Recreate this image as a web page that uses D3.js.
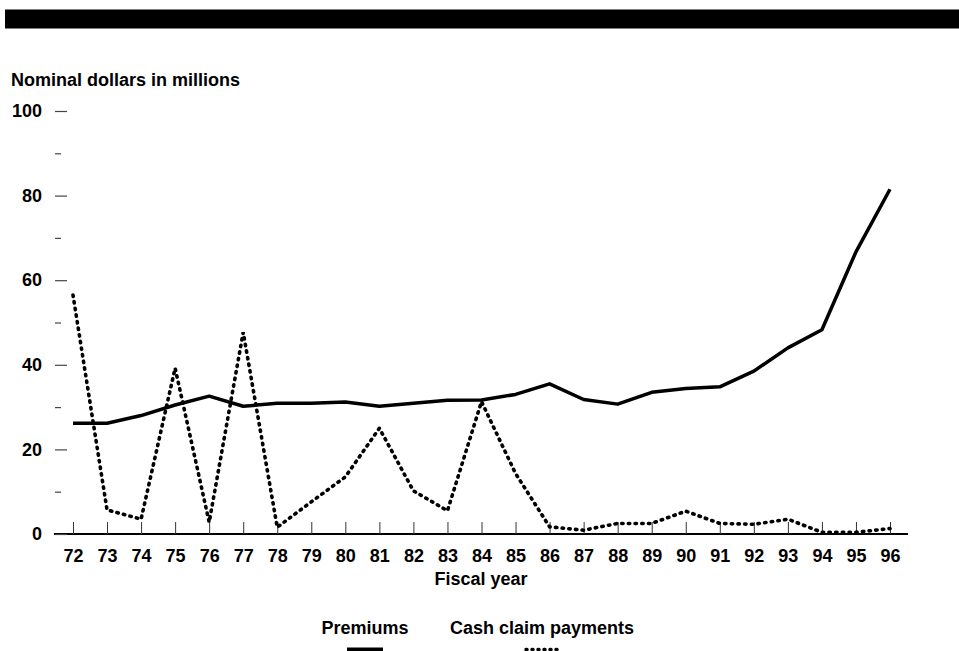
<!DOCTYPE html>
<html><head><meta charset="utf-8">
<script src="https://cdn.jsdelivr.net/npm/d3@7"></script>
<style>body{margin:0;background:#fff}svg{display:block}text{font-family:"Liberation Sans",Arial,sans-serif;font-weight:bold;fill:#000}</style>
</head><body><svg id="c" width="959" height="651"></svg>
<script>
const years = ["72","73","74","75","76","77","78","79","80","81","82","83","84","85","86","87","88","89","90","91","92","93","94","95","96"];
const premiums = [26.2,26.2,28.0,30.5,32.6,30.2,30.9,30.9,31.2,30.2,30.9,31.6,31.7,33.0,35.5,31.8,30.7,33.5,34.4,34.8,38.5,44.0,48.3,66.7,81.5];
const claims = [56.5,5.7,3.5,39.2,2.8,47.7,1.6,7.6,13.5,25.0,10.2,5.5,31.3,14.3,1.7,0.9,2.5,2.5,5.4,2.5,2.3,3.5,0.4,0.4,1.3];
const yMajor = [0,20,40,60,80,100];
const yMinor = [10,30,50,70,90];
const seriesNames = ["Premiums","Cash claim payments"];

const FS = 18;
const DOTS = "1.4,5.3";
const svg = d3.select("#c");
svg.append("rect").attr("x",5).attr("y",9.5).attr("width",954).attr("height",19).attr("fill","#000");
svg.append("text").attr("x",11).attr("y",86).attr("font-size",FS).text("Nominal dollars in millions");

const x = d3.scalePoint().domain(years).range([73,890]);
const y = d3.scaleLinear().domain([0,100]).range([534,111]);

// x axis line
svg.append("line").attr("x1",54).attr("x2",908).attr("y1",y(0)).attr("y2",y(0)).attr("stroke","#000").attr("stroke-width",2);
const xa = svg.append("g").attr("transform",`translate(0,${y(0)})`)
  .call(d3.axisBottom(x).tickSize(-12).tickPadding(15));
xa.select(".domain").remove();
xa.selectAll(".tick line").attr("stroke","#333").attr("stroke-width",1);
xa.selectAll(".tick text").attr("font-size",FS).attr("font-family","Liberation Sans, Arial, sans-serif").attr("font-weight","bold").attr("fill","#000");
svg.append("text").attr("x",481).attr("y",585).attr("text-anchor","middle").attr("font-size",FS).text("Fiscal year");

// y axis ticks
const ya = svg.append("g").attr("transform","translate(55,0)")
  .call(d3.axisRight(y).tickValues(yMajor).tickSize(12).tickFormat(d3.format("d")));
ya.select(".domain").remove();
ya.selectAll(".tick line").attr("stroke","#444").attr("stroke-width",1.2);
ya.selectAll(".tick text").attr("x",-13).attr("text-anchor","end").attr("font-size",FS)
  .attr("font-family","Liberation Sans, Arial, sans-serif").attr("font-weight","bold").attr("fill","#000");
const ym = svg.append("g").attr("transform","translate(55,0)")
  .call(d3.axisRight(y).tickValues(yMinor).tickSize(6).tickFormat(""));
ym.select(".domain").remove();
ym.selectAll(".tick line").attr("stroke","#444").attr("stroke-width",1.2);

const line = d3.line().x((d,i)=>x(years[i])).y(d=>y(d));
svg.append("path").datum(premiums).attr("d",line).attr("fill","none").attr("stroke","#000").attr("stroke-width",3.5).attr("stroke-linejoin","round");
svg.append("path").datum(claims).attr("d",line).attr("fill","none").attr("stroke","#000").attr("stroke-width",3.6)
  .attr("stroke-linecap","round").attr("stroke-dasharray",DOTS);

// legend
svg.append("text").attr("x",365).attr("y",634).attr("text-anchor","middle").attr("font-size",FS).text(seriesNames[0]);
svg.append("line").attr("x1",347).attr("x2",383).attr("y1",649.5).attr("y2",649.5).attr("stroke","#000").attr("stroke-width",4);
svg.append("text").attr("x",542).attr("y",634).attr("text-anchor","middle").attr("font-size",FS).text(seriesNames[1]);
svg.append("line").attr("x1",526).attr("x2",558).attr("y1",649.5).attr("y2",649.5).attr("stroke","#000").attr("stroke-width",3.4)
  .attr("stroke-linecap","round").attr("stroke-dasharray","1,5");
</script></body></html>
